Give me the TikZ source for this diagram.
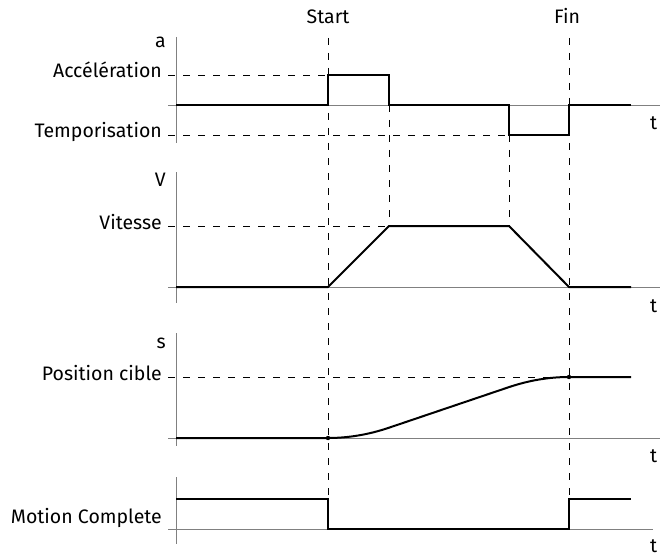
\documentclass[tikz,border=0pt]{standalone}
\usepackage{fontspec}
\setmainfont{Fira Sans}
\usepackage{tikz}

\begin{document}
\begin{tikzpicture}[x=1pt,y=-1pt,
  axisline/.style={gray,line width=0.8pt},
  sig/.style={line width=2pt,line join=miter},
  guide/.style={line width=0.8pt,dash pattern=on 7pt off 8pt},
  lbl/.style={anchor=base east,inner sep=0pt,font=\fontsize{19.5}{22}\selectfont},
  tlbl/.style={anchor=base west,inner sep=0pt,font=\fontsize{19.5}{22}\selectfont}]
\useasboundingbox (0,0) rectangle (660,556);
\draw[axisline] (176,37)--(176,143);
\draw[axisline] (168,105)--(660,105);
\draw[axisline] (176,172)--(176,303);
\draw[axisline] (168,287)--(660,287);
\draw[axisline] (176,333)--(176,446);
\draw[axisline] (168,438)--(660,438);
\draw[axisline] (176,477)--(176,544);
\draw[axisline] (168,529)--(653,529);
\draw[guide] (328,38)--(328,530);
\draw[guide] (569,38)--(569,499);
\draw[guide] (389,105)--(389,226);
\draw[guide] (509,135)--(509,226);
\draw[guide] (168,75)--(328,75);
\draw[guide] (168,135)--(509,135);
\draw[guide] (168,226)--(389,226);
\draw[guide] (168,377)--(569,377);
\draw[sig] (176,105)--(328,105)--(328,75)--(389,75)--(389,105)--(509,105)--(509,135)--(569,135)--(569,105)--(631,105);
\draw[sig] (176,287)--(328,287)--(389,226)--(509,226)--(569,287)--(631,287);
\draw[sig] (176,438)--(328,438) .. controls (348.3,438) and (368.7,434.6) .. (389,427.7)--(509,387.1) .. controls (529,380.4) and (549,377) .. (569,377)--(631,377);
\fill (328,438) circle (2.2);
\fill (569,377) circle (2.2);
\draw[sig] (176,499)--(328,499)--(328,529)--(569,529)--(569,499)--(631,499);
\node[tlbl,anchor=base] (start) at (328,24) {Start};
\node[tlbl,anchor=base] (fin) at (567,24) {Fin};
\node[lbl] (a) at (166,48) {a};
\node[lbl] (acc) at (162,78) {Accélération};
\node[lbl] (temp) at (162,138) {Temporisation};
\node[lbl] (v) at (166,186) {V};
\node[lbl] (vit) at (162,229) {Vitesse};
\node[lbl] (s) at (166,348) {s};
\node[lbl] (pos) at (162,380) {Position cible};
\node[lbl] (mc) at (162,523) {Motion Complete};
\node[tlbl] (t1) at (650,130) {t};
\node[tlbl] (t2) at (650,312) {t};
\node[tlbl] (t3) at (650,462) {t};
\node[tlbl] (t4) at (650,552) {t};
\end{tikzpicture}
\end{document}
